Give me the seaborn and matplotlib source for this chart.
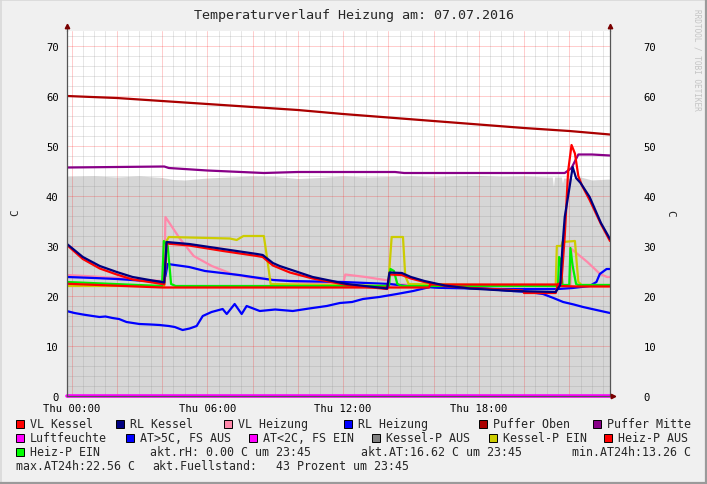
import numpy as np
import matplotlib
matplotlib.use("Agg")
import matplotlib.pyplot as plt
import seaborn as sns
from matplotlib.patches import Rectangle
from matplotlib.lines import Line2D

# ── Data (hours since Thu 00:00, temperature in C) ─────────────────────────
PO_H = [-0.2, 2, 4, 6, 8, 10, 12, 14, 16, 18, 20, 22, 23.8]
PO_V = [60.0, 59.6, 59.0, 58.4, 57.8, 57.2, 56.4, 55.7, 55.0, 54.3, 53.6, 53.0, 52.3]

PM_H = [-0.2, 2, 4.1, 4.3, 6, 8.5, 10, 14.3, 14.7, 18, 21.8, 22.1, 22.4, 23, 23.8]
PM_V = [45.7, 45.8, 45.9, 45.6, 45.1, 44.6, 44.8, 44.8, 44.6, 44.6, 44.6, 45.6, 48.3, 48.3, 48.1]

FILL_H = [-0.2, 1, 2, 3, 4, 4.5, 5, 5.5, 6, 7, 8, 9, 10, 11, 12, 13, 14, 15, 16,
          17, 18, 19, 20, 21, 21.25, 21.3, 21.35, 21.65, 21.7, 21.75, 22, 22.5, 23, 23.8]
FILL_V = [43.9, 44.0, 43.8, 44.0, 43.7, 43.3, 43.2, 43.4, 43.6, 43.8, 44.0, 43.9, 43.5,
          43.7, 44.0, 43.8, 43.9, 44.0, 43.8, 44.0, 44.1, 43.9, 44.0, 43.8, 43.8, 41.8, 43.8,
          43.8, 42.5, 43.6, 43.5, 43.8, 43.2, 43.4]

RLK_H = [-0.2, 0.5, 1.25, 2.0, 2.7, 3.45, 4.0, 4.1, 4.2, 5.2, 6.7, 8.2, 8.45, 8.9, 9.2,
         10.66, 12.17, 13.95, 14.05, 14.6, 15.0, 15.6, 16.5, 17.6, 19.5, 20.5, 21.4, 21.6,
         21.7, 21.8, 21.95, 22.15, 22.3, 22.5, 22.9, 23.4, 23.8]
RLK_V = [30.4, 27.8, 26.0, 24.8, 23.8, 23.2, 22.8, 22.7, 30.8, 30.4, 29.4, 28.4, 28.2, 26.6, 26.0,
         23.8, 22.4, 21.5, 24.7, 24.6, 23.8, 23.0, 22.1, 21.5, 21.0, 20.9, 20.8, 22.2,
         30.0, 35.8, 40.0, 45.8, 43.6, 42.6, 39.8, 34.6, 31.4]

VLK_H = [-0.2, 0.5, 1.25, 2.0, 2.7, 3.45, 4.0, 4.1, 4.2, 5.2, 6.7, 8.2, 8.45, 8.9, 9.65,
         10.66, 12.17, 13.95, 14.05, 14.6, 15.0, 15.6, 16.5, 17.6, 19.5, 19.95, 20.0, 21.4,
         21.5, 21.65, 21.8, 21.95, 22.1, 22.25, 22.4, 22.55, 22.9, 23.4, 23.8]
VLK_V = [30.2, 27.4, 25.5, 24.3, 23.3, 22.8, 22.4, 22.3, 30.5, 30.1, 29.0, 28.0, 27.8, 26.1, 24.7,
         23.5, 22.2, 21.4, 24.3, 24.2, 23.5, 22.8, 22.0, 21.6, 21.2, 21.1, 20.6, 20.6,
         22.4, 22.6, 32.0, 45.0, 50.2, 48.5, 44.0, 42.2, 39.2, 34.4, 31.0]

VLH_H = [-0.2, 1.0, 2.0, 3.0, 4.0, 4.1, 4.15, 4.8, 5.4, 6.2, 7.1, 8.0, 9.0, 10.0, 11.0,
         12.0, 12.1, 13.0, 14.0, 14.1, 16.0, 21.9, 22.05, 22.1, 22.8, 23.36, 23.67, 23.8]
VLH_V = [24.2, 23.9, 23.6, 23.3, 23.0, 23.0, 35.8, 31.4, 28.0, 26.0, 24.4, 23.6, 23.2, 22.8, 22.5,
         22.3, 24.3, 23.8, 23.1, 22.3, 22.2, 22.1, 22.1, 29.4, 26.8, 24.4, 23.8, 23.8]

RLH_H = [-0.2, 1.0, 2.0, 3.0, 4.05, 4.15, 4.25, 5.2, 5.9, 7.4, 8.9, 9.65, 12.0, 14.07, 14.8,
         16.6, 19.0, 21.5, 22.15, 22.9, 23.2, 23.35, 23.65, 23.8]
RLH_V = [23.8, 23.6, 23.4, 23.1, 22.8, 24.0, 26.4, 25.8, 25.0, 24.2, 23.2, 23.0, 22.8, 22.4, 22.0,
         21.6, 21.4, 21.4, 21.6, 22.0, 22.8, 24.4, 25.4, 25.4]

AT_H = [-0.22, 0.13, 0.5, 0.93, 1.24, 1.5, 1.81, 2.1, 2.43, 3.0, 3.5, 3.89, 4.3, 4.56, 4.91, 5.22,
        5.53, 5.8, 6.19, 6.68, 6.86, 7.21, 7.52, 7.74, 8.32, 9.0, 9.78, 10.5, 11.28, 11.86,
        12.4, 12.88, 13.6, 14.38, 15.1, 15.84, 16.5, 17.3, 18.4, 19.5, 20.2, 20.84, 21.3,
        21.73, 22.2, 22.61, 23.2, 23.8]
AT_V = [17.0, 16.6, 16.3, 16.0, 15.8, 15.9, 15.6, 15.4, 14.8, 14.4, 14.3, 14.2, 14.0, 13.8, 13.2,
        13.5, 14.0, 16.0, 16.8, 17.4, 16.4, 18.4, 16.4, 18.0, 17.0, 17.3, 17.0, 17.5, 18.0, 18.6,
        18.8, 19.4, 19.8, 20.4, 21.0, 21.8, 21.6, 21.8, 21.4, 21.0, 20.8, 20.4, 19.6,
        18.8, 18.3, 17.8, 17.2, 16.6]

KPE_H = [-0.2, 4.1, 4.2, 4.3, 7.0, 7.3, 7.6, 8.5, 8.65, 8.8, 14.0, 14.08, 14.15, 14.65, 14.75,
         14.9, 21.4, 21.45, 21.65, 21.7, 22.25, 22.4, 22.55, 23.8]
KPE_V = [22.0, 22.0, 31.0, 31.8, 31.5, 31.2, 32.0, 32.0, 27.4, 22.4, 22.0, 27.4, 31.8, 31.8, 24.0,
         22.4, 22.0, 30.0, 30.0, 30.8, 31.0, 22.8, 22.2, 22.2]

HPA_H = [-0.2, 4.0, 15.8, 15.85, 21.45, 21.5, 22.4, 23.8]
HPA_V = [22.45, 21.7, 21.7, 22.3, 22.3, 22.0, 21.9, 21.9]

HPE_H = [-0.2, 4.0, 4.08, 4.25, 4.4, 4.6, 14.03, 14.1, 14.25, 14.4, 14.6, 21.5, 21.55, 21.62,
         21.7, 22.0, 22.05, 22.15, 22.3, 22.4, 23.8]
HPE_V = [22.8, 22.0, 31.0, 30.0, 22.4, 22.0, 22.0, 25.4, 25.0, 22.4, 22.0, 22.0, 27.8, 27.0,
         22.2, 22.2, 29.6, 26.0, 22.4, 22.2, 22.2]

LUFT_H = [-0.2, 23.8]
LUFT_V = [0.0, 0.0]

XTICK_POS = list(range(0, 24, 2))
XTICK_LAB = ["Thu 00:00", "", "", "Thu 06:00", "", "", "Thu 12:00", "", "", "Thu 18:00", "", ""]
YTICKS = list(range(0, 80, 10))

LEGEND_ROWS = [
    [("VL Kessel", "#FF0000"), ("RL Kessel", "#000080"), ("VL Heizung", "#FF88AA"),
     ("RL Heizung", "#0000FF"), ("Puffer Oben", "#AA0000"), ("Puffer Mitte", "#880088")],
    [("Luftfeuchte", "#FF00FF"), ("AT>5C, FS AUS", "#0000FF"), ("AT<2C, FS EIN", "#FF00FF"),
     ("Kessel-P AUS", "#808080"), ("Kessel-P EIN", "#CCCC00"), ("Heiz-P AUS", "#FF0000")],
    [("Heiz-P EIN", "#00FF00")],
]
LEGEND_X = [[16, 116, 224, 344, 479, 593], [16, 126, 249, 372, 489, 604], [16]]
INFO_TEXT = [("akt.rH: 0.00 C um 23:45", 150, 453), ("akt.AT:16.62 C um 23:45", 361, 453),
             ("min.AT24h:13.26 C", 572, 453), ("max.AT24h:22.56 C", 16, 467),
             ("akt.Fuellstand:", 152, 467), ("43 Prozent um 23:45", 276, 467)]

BG = "#F0F0F0"
W, H = 707, 485

sns.set_theme(style="white")
plt.rcParams["font.family"] = ["DejaVu Sans Mono", "DejaVu Sans"]

fig = plt.figure(figsize=(W / 100, H / 100), dpi=100)
fig.patch.set_facecolor(BG)
ax = fig.add_axes([67 / W, 88 / H, 543 / W, 365 / H])
ax.set_facecolor("#FFFFFF")

ax.fill_between(FILL_H, FILL_V, 0, color="#D6D6D6", lw=0, zorder=1)

series = [
    (AT_H, AT_V, "#0000FF", 3.0),
    (PO_H, PO_V, "#AA0000", 3.1),
    (PM_H, PM_V, "#880088", 3.2),
    (VLH_H, VLH_V, "#FF88AA", 3.3),
    (RLH_H, RLH_V, "#0000FF", 3.4),
    (KPE_H, KPE_V, "#CCCC00", 3.5),
    (HPE_H, HPE_V, "#00EE00", 3.6),
    (HPA_H, HPA_V, "#FF0000", 3.65),
    (VLK_H, VLK_V, "#FF0000", 3.7),
    (RLK_H, RLK_V, "#000080", 3.8),
]
for xs, ys, col, z in series:
    sns.lineplot(x=xs, y=ys, ax=ax, color=col, lw=1.6, estimator=None, sort=False, zorder=z)
sns.lineplot(x=LUFT_H, y=LUFT_V, ax=ax, color="#FF00FF", lw=2.6, estimator=None,
             sort=False, zorder=4.5)
ax.lines[-1].set_clip_on(False)

ax.set_xlim(-0.2, 23.8)
ax.set_ylim(0, 73)
ax.set_xticks(XTICK_POS)
ax.set_xticklabels(XTICK_LAB)
ax.set_xticks(np.arange(-0.0, 24, 0.5), minor=True)
ax.set_yticks(YTICKS)
ax.set_yticks(np.arange(0, 74, 2), minor=True)
ax.set_axisbelow(False)
ax.grid(which="minor", color="#808080", alpha=0.2, lw=0.7)
ax.grid(which="major", color="#FF0000", alpha=0.2, lw=0.7)
ax.tick_params(axis="x", which="both", length=0, labelsize=7.6, pad=5, colors="#000000")
ax.tick_params(axis="y", which="major", length=2, labelsize=7.6, pad=4, colors="#000000",
               labelright=False)
ax.tick_params(axis="y", which="minor", length=0)
ax.set_xlabel(""); ax.set_ylabel("")

sec = ax.secondary_yaxis("right")
sec.set_yticks(YTICKS)
sec.tick_params(length=0, labelsize=7.6, pad=24, colors="#000000")
sec.spines["right"].set_visible(False)

ax.spines["top"].set_visible(False)
for s in ["left", "right", "bottom"]:
    ax.spines[s].set_color("#555555")
    ax.spines[s].set_linewidth(0.9)
    ax.spines[s].set_zorder(5)

# axis arrows
arrow_col = "#7A0000"
for xa in (0, 1):
    ax.plot([xa, xa], [1.0, 1.012], color="#555555", lw=0.9, transform=ax.transAxes, clip_on=False)
    ax.plot(xa, 1.014, marker="^", ms=3.2, color=arrow_col, transform=ax.transAxes, clip_on=False)
ax.plot(1.006, 0, marker=">", ms=3.2, color=arrow_col, transform=ax.transAxes, clip_on=False, zorder=6)

fig.text(354 / W, 1 - 16 / H, "Temperaturverlauf Heizung am: 07.07.2016",
         ha="center", va="center", fontsize=9.6)
fig.text(15 / W, 1 - 213 / H, "C", rotation=90, ha="center", va="center", fontsize=8)
fig.text(670 / W, 1 - 213 / H, "C", rotation=270, ha="center", va="center", fontsize=8)
fig.text(697 / W, 1 - 60 / H, "RRDTOOL / TOBI OETIKER", rotation=270, ha="center",
         va="center", fontsize=5.6, color="#C4C4C4")

# legend
row_y = [425, 439, 453]
for row, xs, yy in zip(LEGEND_ROWS, LEGEND_X, row_y):
    for (lab, col), xb in zip(row, xs):
        fig.patches.append(Rectangle((xb / W, 1 - (yy + 4) / H), 8 / W, 8 / H, facecolor=col,
                                     edgecolor="#000000", lw=0.7, transform=fig.transFigure))
        fig.text((xb + 14) / W, 1 - yy / H, lab, ha="left", va="center", fontsize=8.4)
for txt, xt, yt in INFO_TEXT:
    fig.text(xt / W, 1 - yt / H, txt, ha="left", va="center", fontsize=8.4)

# 3D frame
fig.add_artist(Line2D([0, 1], [1 - 0.5 / H, 1 - 0.5 / H], color="#D8D8D8", lw=1.2, transform=fig.transFigure))
fig.add_artist(Line2D([0.5 / W, 0.5 / W], [0, 1], color="#D8D8D8", lw=1.2, transform=fig.transFigure))
fig.add_artist(Line2D([1 - 1 / W, 1 - 1 / W], [0, 1], color="#9A9A9A", lw=1.6, transform=fig.transFigure))
fig.add_artist(Line2D([0, 1], [1 / H, 1 / H], color="#9A9A9A", lw=1.6, transform=fig.transFigure))

fig.savefig("out.png", dpi=100, facecolor=BG)
